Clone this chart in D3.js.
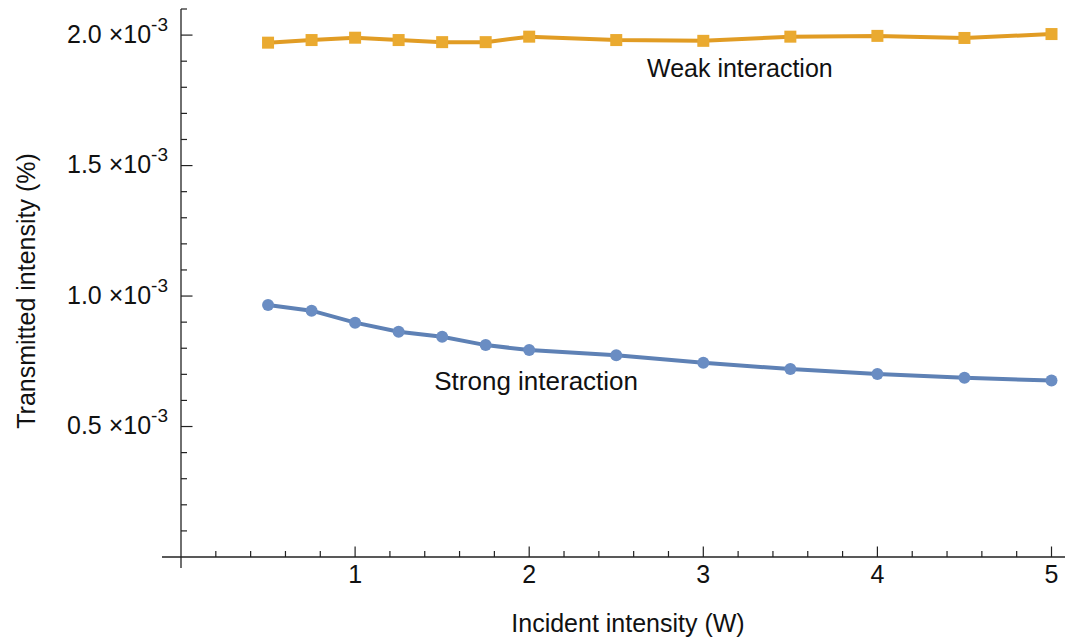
<!DOCTYPE html>
<html>
<head>
<meta charset="utf-8">
<script src="https://cdn.jsdelivr.net/npm/d3@7"></script>
<style>
  body { margin: 0; background: #fff; }
  text { font-family: "Liberation Sans", Arial, sans-serif; fill: #111; }
</style>
</head>
<body>
<div id="chart"></div>
<script>
// incident intensity (W)
var incident = [0.5, 0.75, 1, 1.25, 1.5, 1.75, 2, 2.5, 3, 3.5, 4, 4.5, 5];
// transmitted intensity (%)
var strong = [0.966e-3, 0.944e-3, 0.898e-3, 0.863e-3, 0.844e-3, 0.812e-3, 0.793e-3, 0.773e-3, 0.744e-3, 0.720e-3, 0.701e-3, 0.687e-3, 0.676e-3];
var weak = [1.971e-3, 1.981e-3, 1.990e-3, 1.981e-3, 1.973e-3, 1.973e-3, 1.994e-3, 1.981e-3, 1.978e-3, 1.994e-3, 1.997e-3, 1.989e-3, 2.004e-3];

var xTicks = [1, 2, 3, 4, 5];
var yTicks = [0.5e-3, 1.0e-3, 1.5e-3, 2.0e-3];
var yTickLabels = ["0.5", "1.0", "1.5", "2.0"];

var width = 1065, height = 640;

var svg = d3.select("#chart").append("svg")
    .attr("width", width)
    .attr("height", height);

var x = d3.scaleLinear().domain([0, 5]).range([181, 1051.5]);
var y = d3.scaleLinear().domain([0, 2.1e-3]).range([557, 9]);

var axisColor = "#222";

// axes lines
svg.append("line")
   .attr("x1", 162).attr("x2", width)
   .attr("y1", y(0)).attr("y2", y(0))
   .attr("stroke", axisColor).attr("stroke-width", 1.3);
svg.append("line")
   .attr("x1", x(0)).attr("x2", x(0))
   .attr("y1", y(2.1e-3)).attr("y2", 568)
   .attr("stroke", axisColor).attr("stroke-width", 1.3);

// x ticks (major every 1, minor every 0.2)
var xMinor = d3.range(1, 26).map(function(i) { return i * 0.2; });
svg.append("g").selectAll("line")
   .data(xMinor)
   .enter().append("line")
   .attr("x1", function(d) { return x(d); })
   .attr("x2", function(d) { return x(d); })
   .attr("y1", y(0))
   .attr("y2", function(d) { return Math.abs(d - Math.round(d)) < 1e-6 ? y(0) - 10.5 : y(0) - 6; })
   .attr("stroke", axisColor).attr("stroke-width", 1.2);

svg.append("g").selectAll("text")
   .data(xTicks)
   .enter().append("text")
   .attr("x", function(d) { return x(d); })
   .attr("y", 583)
   .attr("text-anchor", "middle")
   .style("font-size", "25px")
   .text(function(d) { return d; });

// y ticks (major every 0.5e-3, minor every 0.1e-3)
var yMinor = d3.range(1, 22).map(function(i) { return i * 0.1e-3; });
svg.append("g").selectAll("line")
   .data(yMinor)
   .enter().append("line")
   .attr("x1", x(0))
   .attr("x2", function(d, i) { return (i + 1) % 5 === 0 ? x(0) + 11.5 : x(0) + 6; })
   .attr("y1", function(d) { return y(d); })
   .attr("y2", function(d) { return y(d); })
   .attr("stroke", axisColor).attr("stroke-width", 1.2);

var yLab = svg.append("g").selectAll("text")
   .data(yTicks)
   .enter().append("text")
   .attr("x", 168)
   .attr("y", function(d) { return y(d) + 7.5; })
   .attr("text-anchor", "end")
   .style("font-size", "25px");
yLab.append("tspan").text(function(d, i) { return yTickLabels[i] + " \u00d710"; });
yLab.append("tspan")
    .attr("dy", -12)
    .style("font-size", "19px")
    .text("-3");

// axis titles
svg.append("text")
   .attr("x", 628)
   .attr("y", 632)
   .attr("text-anchor", "middle")
   .style("font-size", "25px")
   .text("Incident intensity (W)");

svg.append("text")
   .attr("transform", "translate(35,291) rotate(-90)")
   .attr("text-anchor", "middle")
   .style("font-size", "25px")
   .text("Transmitted intensity (%)");

// series
var strongColor = "#5e81b5", strongMark = "#6a8dc3";
var weakColor = "#e19c24", weakMark = "#eaaa30";

var line = d3.line()
    .x(function(d) { return x(d[0]); })
    .y(function(d) { return y(d[1]); });

var strongData = incident.map(function(v, i) { return [v, strong[i]]; });
var weakData = incident.map(function(v, i) { return [v, weak[i]]; });

svg.append("path")
   .datum(weakData)
   .attr("d", line)
   .attr("fill", "none")
   .attr("stroke", weakColor)
   .attr("stroke-width", 4);

svg.append("g").selectAll("rect")
   .data(weakData)
   .enter().append("rect")
   .attr("x", function(d) { return x(d[0]) - 6; })
   .attr("y", function(d) { return y(d[1]) - 6; })
   .attr("width", 12)
   .attr("height", 12)
   .attr("fill", weakMark);

svg.append("path")
   .datum(strongData)
   .attr("d", line)
   .attr("fill", "none")
   .attr("stroke", strongColor)
   .attr("stroke-width", 4);

svg.append("g").selectAll("circle")
   .data(strongData)
   .enter().append("circle")
   .attr("cx", function(d) { return x(d[0]); })
   .attr("cy", function(d) { return y(d[1]); })
   .attr("r", 6)
   .attr("fill", strongMark);

// annotations
svg.append("text")
   .attr("x", x(3.21))
   .attr("y", y(1.84e-3))
   .attr("text-anchor", "middle")
   .style("font-size", "25px")
   .text("Weak interaction");

svg.append("text")
   .attr("x", x(2.04))
   .attr("y", y(0.641e-3))
   .attr("text-anchor", "middle")
   .style("font-size", "26px")
   .text("Strong interaction");
</script>
</body>
</html>
